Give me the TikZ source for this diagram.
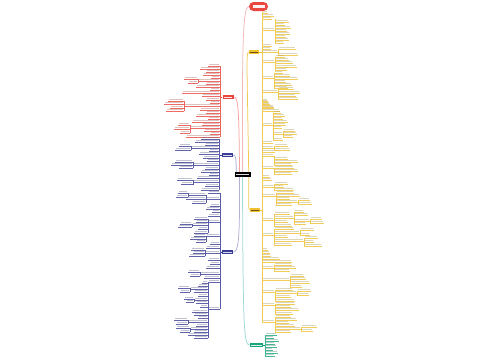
\documentclass[tikz,border=0pt]{standalone}
\usetikzlibrary{calc}
\definecolor{cred}{HTML}{E8463E}
\definecolor{cnavy}{HTML}{3A3D96}
\definecolor{cyel}{HTML}{F0C030}
\definecolor{cgreen}{HTML}{17A57A}
\definecolor{cpink}{HTML}{F2B8B8}
\definecolor{cteal}{HTML}{9ED8D4}
\tikzset{
  lbl/.style={draw=none,inner sep=0pt,minimum height=3.8pt},
  ul/.style={line width=0.35pt},
  spine/.style={line width=0.45pt},
  conn/.style={line width=0.75pt},
}
% right leaf: colour, left x, y, length
\newcommand\rleaf[4]{%
  \fill[#1!40!gray,fill opacity=0.4] ({#2+0.6},{#3-2.2}) rectangle ({#2+#4-0.6},{#3-0.9});
  \draw[ul,#1!80] (#2,#3) -- ({#2+#4},#3);}
% left leaf: colour, right x, y, length
\newcommand\lleaf[4]{%
  \fill[#1!40!gray,fill opacity=0.4] ({#2-#4+0.6},{#3-2.2}) rectangle ({#2-0.6},{#3-0.9});
  \draw[ul,#1!80] ({#2-#4},#3) -- (#2,#3);}
% groups: colour, spine x, y from, y to, list y/len
\newcommand\rgrp[5]{\draw[spine,#1!85] (#2,#3) -- (#2,#4);
  \foreach \p/\q in {#5}{\rleaf{#1}{#2}{\p}{\q}}}
\newcommand\lgrp[5]{\draw[spine,#1!85] (#2,#3) -- (#2,#4);
  \foreach \p/\q in {#5}{\lleaf{#1}{#2}{\p}{\q}}}
\newcommand\lbltxt[2]{\fill[#2] ($(#1.west)+(1.3,-0.5)$) rectangle ($(#1.east)+(-1.3,0.5)$);}
\begin{document}
\begin{tikzpicture}[x=1pt,y=-1pt]
\fill[white] (0,0) rectangle (500,360);
\useasboundingbox (0,0) rectangle (500,360);

% ---- node positions (drawn after the connectors)
\coordinate (cpos) at (242.5,174.5);
\path (cpos) node[lbl,minimum width=16pt,minimum height=4.5pt] (c) {};
\path (258.5,6.5) node[lbl,minimum width=19pt,minimum height=9pt] (t) {};
\path (228,97) node[lbl,minimum width=11pt] (r1) {};
\path (227.5,155) node[lbl,minimum width=11pt] (b1) {};
\path (227.5,252) node[lbl,minimum width=11pt] (b2) {};
\path (254,52) node[lbl,minimum width=10pt] (y1) {};
\path (255,210) node[lbl,minimum width=10pt] (y2) {};
\path (256.5,345) node[lbl,minimum width=13pt,minimum height=4.2pt] (g) {};

% ---- connectors from the centre
\draw[conn,cpink] (c.north) .. controls (242,40) and (243,7) .. (t.west);
\draw[conn,cred!50] ($(c.north)+(-3,0)$) .. controls (239,105) and (238,97) .. (r1.east);
\draw[conn,cnavy!45] ($(c.north west)+(2,0)$) .. controls (236,158) and (236,155) .. (b1.east);
\draw[conn,cnavy!40] ($(c.south)+(-3,0)$) .. controls (240,245) and (238,252) .. (b2.east);
\draw[conn,cyel!85] ($(c.north east)+(-2,0)$) .. controls (247,60) and (246,52) .. (y1.west);
\draw[conn,cyel!85] ($(c.south east)+(-2,0)$) .. controls (249,205) and (248,210) .. (y2.west);
\draw[conn,cteal] (c.south) .. controls (243,335) and (244,345) .. (g.west);

% ---- nodes drawn on top
\node[lbl,fill=black,minimum width=16pt,minimum height=4.5pt] at (c) {};
\node[lbl,fill=cred,rounded corners=4.5pt,minimum width=19pt,minimum height=9pt] at (t) {};
\node[lbl,fill=cred,minimum width=11pt] at (r1) {};
\node[lbl,fill=cnavy,minimum width=11pt] at (b1) {};
\node[lbl,fill=cnavy,minimum width=11pt] at (b2) {};
\node[lbl,fill=cyel,minimum width=10pt] at (y1) {};
\node[lbl,fill=cyel,minimum width=10pt] at (y2) {};
\node[lbl,fill=cgreen,minimum width=13pt,minimum height=4.2pt] at (g) {};
\lbltxt{c}{white!75!gray}
\fill[white!92!cred] (252.5,5) rectangle (264.5,8);
\lbltxt{r1}{white!85!cred}
\lbltxt{b1}{white!80!cnavy}
\lbltxt{b2}{white!80!cnavy}
\lbltxt{y1}{cyel!45!black}
\lbltxt{y2}{cyel!45!black}
\lbltxt{g}{white!85!cgreen}

% ---- stubs from labels to spines
\draw[spine,cyel] (y1.east) -- (262,52);
\draw[spine,cyel] (y2.east) -- (262,210);
\draw[spine,cgreen] (g.east) -- (265,345);
\draw[spine,cred] (r1.west) -- (220,97);
\draw[spine,cnavy] (b1.west) -- (219,155);
\draw[spine,cnavy] (b2.west) -- (220,252);

% ---- yellow branch 1
\rgrp{cyel}{262}{12}{107}{13/6,16/12,19/10,30/13,46/10,49/9,52/16,62/13,78/12,92/16,101/6,104/8,107/12}
\rgrp{cyel}{275}{19}{43}{22/14,25/10,28/16,31/12,34/15,37/11,40/14,43/9}
\rgrp{cyel}{278}{49}{55}{49/18,55/20}
\rgrp{cyel}{275}{57}{70}{57/10,60/14,63/18,67/22,70/12}
\rgrp{cyel}{274}{73}{88}{73/9,76/16,79/24,82/12,85/18,88/14}
\rgrp{cyel}{278}{89}{99}{89/16,93/22,96/18,99/20}

% ---- yellow branch 2
\rgrp{cyel}{262}{102}{322}{102/6,105/8,108/12,111/18,125/11,143/11,148/12,152/13,156/12,168/12,177/8,180/10,187/12,196/14,220/12,235/12,250/6,253/8,256/9,259/18,262/30,268/12,280/28,292/13,305/13,322/13}
\rgrp{cyel}{273}{113}{140}{113/8,116/12,119/10,122/15,125/13,128/9,134/10,140/10}
\rgrp{cyel}{283}{131}{137}{131/12,134/14,137/10}
\rgrp{cyel}{274}{146}{150}{146/14,150/16}
\rgrp{cyel}{274}{156}{165}{159/14,162/24,165/18}
\rgrp{cyel}{274}{168}{174}{168/20,171/24,174/18}
\rgrp{cyel}{274}{184}{190}{184/14,187/10,190/20}
\rgrp{cyel}{276}{193}{205}{193/18,196/24,199/14,202/22,205/16}
\rgrp{cyel}{298}{200}{204}{200/12,204/14}
\rgrp{cyel}{274}{214}{226}{214/16,218/20,222/14,226/18}
\rgrp{cyel}{294}{212}{224}{212/10,215/14,221/16,224/12}
\rgrp{cyel}{310}{219}{223}{219/12,223/14}
\rgrp{cyel}{274}{229}{245}{229/20,233/26,237/14,241/30,245/18}
\rgrp{cyel}{300}{230}{235}{230/14,235/10}
\rgrp{cyel}{304}{238}{246}{238/14,242/10,246/18}
\rgrp{cyel}{274}{265}{271}{265/18,268/22,271/16}
\rgrp{cyel}{290}{276}{287}{276/14,279/16,283/20,287/12}
\rgrp{cyel}{275}{290}{301}{290/18,293/22,297/16,301/20}
\rgrp{cyel}{297}{291}{295}{291/14,295/12}
\rgrp{cyel}{275}{304}{314}{304/20,307/16,310/24,314/18}
\rgrp{cyel}{275}{317}{332}{317/16,320/22,323/14,326/20,329/26,332/16}
\rgrp{cyel}{301}{327}{331}{327/16,331/12}

% ---- green branch
\rgrp{cgreen}{265}{335}{356}{335/12,338/9,341/14,344/10,347/12,350/8,353/13,356/10}

% ---- red branch
\lgrp{cred}{220}{66}{137}{66/12,69/20,72/14,75/17,78/9,81/22,84/14,87/24,90/10,93/38,96/18,100/14,103/10,106/36,110/20,113/14,116/24,119/12,122/28,125/18,128/30,131/16,134/10,137/34}
\lgrp{cred}{184}{101}{111}{101/16,104/20,108/14,111/18}
\lgrp{cred}{190}{125}{133}{125/12,129/16,133/10}
\lgrp{cred}{198}{79}{83}{79/14,83/10}

% ---- blue branch 1
\lgrp{cnavy}{219}{139}{190}{139/18,142/24,145/14,148/28,151/10,154/20,158/16,161/12,165/26,169/14,172/18,175/10,178/22,182/26,186/14,190/18}
\lgrp{cnavy}{193}{162}{168}{162/18,165/22,168/14}
\lgrp{cnavy}{191}{146}{150}{146/12,150/16}
\lgrp{cnavy}{193}{180}{185}{180/16,184/12}

% ---- blue branch 2
\lgrp{cnavy}{220}{193}{309}{193/12,199/14,206/10,209/14,212/8,216/12,222/12,236/14,244/10,248/14,253/15,260/12,264/10,268/14,274/20,278/16,282/12,309/12}
\lgrp{cnavy}{206}{195}{203}{195/18,199/20,203/14}
\lgrp{cnavy}{188}{193}{197}{193/10,197/12}
\lgrp{cnavy}{208}{219}{233}{219/14,222/12,225/16,229/10,233/14}
\lgrp{cnavy}{192}{224}{227}{224/12,227/14}
\lgrp{cnavy}{206}{236}{242}{236/12,239/16,242/10}
\lgrp{cnavy}{205}{250}{256}{250/14,253/12,256/16}
\lgrp{cnavy}{200}{272}{276}{272/12,276/10}
\lgrp{cnavy}{208}{283}{338}{283/6,286/10,289/18,292/14,296/10,300/14,303/12,307/8,312/16,315/14,318/10,322/20,326/12,329/18,332/14,335/20,338/14}
\lgrp{cnavy}{190}{288}{292}{288/12,292/10}
\lgrp{cnavy}{194}{299}{302}{299/10,302/8}
\lgrp{cnavy}{188}{320}{324}{320/14,324/12}
\lgrp{cnavy}{190}{328}{332}{328/14,332/10}
\end{tikzpicture}
\end{document}
